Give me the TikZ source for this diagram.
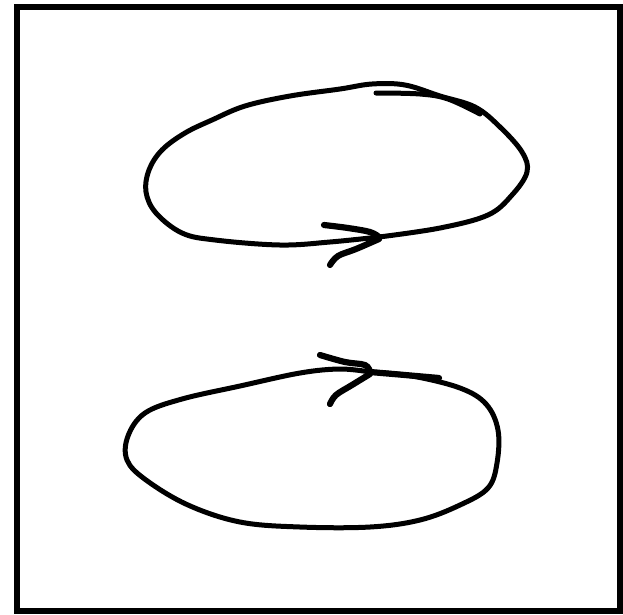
\documentclass[tikz,border=0pt]{standalone}
\begin{document}
\begin{tikzpicture}[x=1pt,y=-1pt,
  stroke/.style={line width=5pt,line cap=round,line join=round},
  barb/.style={line width=6.2pt,line cap=round,line join=round},
  frame/.style={line width=6pt}]
\useasboundingbox (0,0) rectangle (623,614);
\draw[frame] (16.5,7) rectangle (620,611);
% top loop
\draw[stroke] plot[smooth,tension=0.6] coordinates {(379,237) (440,228) (488,215) (512,195) (527,172) (522,152) (500,127) (475,107) (440,96) (405,85) (372,84) (340,89) (290,96) (245,106) (212,120) (185,133) (162,150) (149,170) (146,192) (156,213) (182,233) (215,240) (280,245) (330,242) (379,237)};
\draw[stroke] plot[smooth,tension=0.6] coordinates {(376,93) (420,94) (448,99) (480,114)};
\draw[barb] plot[smooth,tension=0.6] coordinates {(324,225) (348,228) (370,232) (379,237)};
\draw[barb] plot[smooth,tension=0.6] coordinates {(379,239) (356,249) (338,256) (330,265)};
% bottom loop
\draw[stroke] plot[smooth,tension=0.6] coordinates {(370,372) (412,376) (460,388) (486,404) (498,430) (497,463) (488,488) (460,505) (420,520) (370,527) (300,527) (240,522) (188,505) (146,480) (127,460) (128,436) (145,413) (182,399) (240,386) (300,373) (340,369) (370,372)};
\draw[barb] plot[smooth,tension=0.6] coordinates {(370,372) (405,375) (439,378)};
\draw[barb] plot[smooth,tension=0.6] coordinates {(320,355) (345,362) (365,365) (370,372)};
\draw[barb] plot[smooth,tension=0.6] coordinates {(370,374) (352,385) (336,395) (330,404)};
\end{tikzpicture}
\end{document}
